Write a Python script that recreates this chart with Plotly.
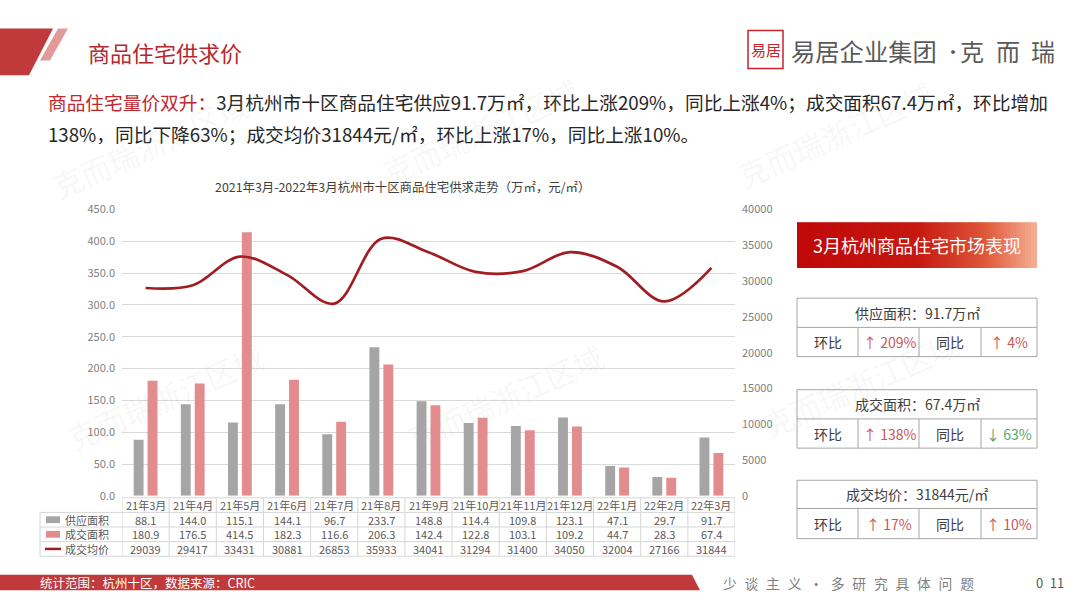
import plotly.graph_objects as go

W, H = 1080, 608
def X(px): return px / W
def Y(py): return 1 - py / H

FONT = "Noto Sans CJK SC"

# ---------------- data ----------------
categories = ["21年3月", "21年4月", "21年5月", "21年6月", "21年7月", "21年8月", "21年9月",
              "21年10月", "21年11月", "21年12月", "22年1月", "22年2月", "22年3月"]
supply = [88.1, 144.0, 115.1, 144.1, 96.7, 233.7, 148.8, 114.4, 109.8, 123.1, 47.1, 29.7, 91.7]
deal = [180.9, 176.5, 414.5, 182.3, 116.6, 206.3, 142.4, 122.8, 103.1, 109.2, 44.7, 28.3, 67.4]
price = [29039, 29417, 33431, 30881, 26853, 35933, 34041, 31294, 31400, 34050, 32004, 27166, 31844]
series_names = ["供应面积", "成交面积", "成交均价"]
left_ticks = [0, 50, 100, 150, 200, 250, 300, 350, 400, 450]
right_ticks = [0, 5000, 10000, 15000, 20000, 25000, 30000, 35000, 40000]

panel_titles = ["供应面积：91.7万㎡", "成交面积：67.4万㎡", "成交均价：31844元/㎡"]
panel_mom = ["↑ 209%", "↑ 138%", "↑ 17%"]
panel_yoy = ["↑ 4%", "↓ 63%", "↑ 10%"]

GRAY = "#A5A5A5"
PINK = "#E38C8E"
LINE = "#A01D22"
RED = "#C0393B"

fig = go.Figure()
fig.add_trace(go.Bar(x=categories, y=supply, name=series_names[0], marker_color=GRAY,
                     marker_line_width=0, yaxis="y"))
fig.add_trace(go.Bar(x=categories, y=deal, name=series_names[1], marker_color=PINK,
                     marker_line_width=0, yaxis="y"))
fig.add_trace(go.Scatter(x=categories, y=price, name=series_names[2], mode="lines", yaxis="y2",
                         line=dict(color=LINE, width=2.7, shape="spline", smoothing=1.0)))

shapes = []
ann = []

def A(x, y, text, size, color, xanchor="center", xref="paper", angle=0):
    ann.append(dict(x=x, y=Y(y), xref=xref, yref="paper", text=text, showarrow=False,
                    xanchor=xanchor, yanchor="middle", textangle=angle,
                    font=dict(family=FONT, size=size, color=color)))

def L(x0, y0, x1, y1, color, width=1, xref="paper"):
    shapes.append(dict(type="line", xref=xref, yref="paper", x0=x0, x1=x1, y0=Y(y0), y1=Y(y1),
                       line=dict(color=color, width=width)))

# ---------------- table under chart ----------------
gcol = "#D6D6D6"
rows_y = [502, 517, 532, 547, 562]
ncat = len(categories)
for k in range(ncat + 1):
    L(k - 0.5, 502, k - 0.5, 562, gcol, xref="x")
L(X(40), 517, X(40), 562, gcol)
L(X(122), 502, X(735), 502, gcol)
for ry in rows_y[1:]:
    L(X(40), ry, X(735), ry, gcol)

tcol = "#595959"
for i, c in enumerate(categories):
    A(c, 509.5, c, 11, tcol, xref="x")
    A(c, 524.5, f"{supply[i]:.1f}", 11, tcol, xref="x")
    A(c, 539.5, f"{deal[i]:.1f}", 11, tcol, xref="x")
    A(c, 554.5, f"{price[i]}", 11, tcol, xref="x")

shapes.append(dict(type="rect", xref="paper", yref="paper", x0=X(46), x1=X(60), y0=Y(528), y1=Y(521),
                   fillcolor=GRAY, line=dict(width=0)))
shapes.append(dict(type="rect", xref="paper", yref="paper", x0=X(46), x1=X(60), y0=Y(543), y1=Y(536),
                   fillcolor=PINK, line=dict(width=0)))
L(X(45), 554.5, X(61), 554.5, LINE, 2.5)
for j, nm in enumerate(series_names):
    A(X(63), 524.5 + 15 * j, nm, 11, tcol, xanchor="left")

# ---------------- chart title ----------------
A(X(402), 183, "2021年3月-2022年3月杭州市十区商品住宅供求走势（万㎡，元/㎡）", 12.4, "#404040")

# ---------------- header decorations ----------------
def path(pts):
    return "M " + " L ".join(f"{X(a):.5f},{Y(b):.5f}" for a, b in pts) + " Z"

shapes.append(dict(type="path", xref="paper", yref="paper", path=path([(0, 20), (53, 20), (29, 68), (0, 68)]),
                   fillcolor=RED, line=dict(width=0)))
shapes.append(dict(type="path", xref="paper", yref="paper", path=path([(58, 20), (68, 20), (50, 53), (40, 53)]),
                   fillcolor="#E39A9A", line=dict(width=0)))
A(X(86), 44, "商品住宅供求价", 22, "#B5282E", xanchor="left")

# logo
shapes.append(dict(type="rect", xref="paper", yref="paper", x0=X(748), x1=X(783), y0=Y(61), y1=Y(22),
                   fillcolor="white", line=dict(color="#C8242B", width=1.5)))
A(X(765.5), 41.5, "易居", 15, "#C8242B")
A(X(789), 43, "易居企业集团", 24.3, "#5A5A5A", xanchor="left")
A(X(952.5), 43, "·", 18, "#5A5A5A")
for cx, ch in zip([972, 1008, 1042.5], "克而瑞"):
    A(X(cx), 43, ch, 24, "#5A5A5A")

# paragraph
A(X(46), 95, "<span style='color:#C0282E'>商品住宅量价双升：</span>3月杭州市十区商品住宅供应91.7万㎡，环比上涨209%，同比上涨4%；成交面积67.4万㎡，环比增加",
  18.7, "#262626", xanchor="left")
A(X(46), 128, "138%，同比下降63%；成交均价31844元/㎡，环比上涨17%，同比上涨10%。", 18.7, "#262626", xanchor="left")

# watermarks
for (wx, wy) in [(150, 140), (480, 125), (835, 128), (165, 398), (505, 398), (860, 385)]:
    A(X(wx), wy, "克而瑞浙江区域", 30, "rgba(170,170,170,0.09)", angle=-24)

# ---------------- right panel ----------------
def lerp(c1, c2, t):
    return tuple(int(round(a + (b - a) * t)) for a, b in zip(c1, c2))

stops = [(0.0, (190, 8, 8)), (0.5, (198, 24, 16)), (0.78, (222, 86, 56)), (1.0, (246, 176, 148))]
bx0, bx1 = 797, 1037
n = 80
for s in range(n):
    t = (s + 0.5) / n
    for (p0, c0), (p1, c1) in zip(stops[:-1], stops[1:]):
        if p0 <= t <= p1:
            col = lerp(c0, c1, (t - p0) / (p1 - p0))
            break
    xa = bx0 + (bx1 - bx0) * s / n
    xb = bx0 + (bx1 - bx0) * (s + 1) / n + 0.6
    shapes.append(dict(type="rect", xref="paper", yref="paper", x0=X(xa), x1=X(min(xb, bx1)),
                       y0=Y(266), y1=Y(219), fillcolor=f"rgb{col}", line=dict(width=0)))
A(X(917), 242, "3月杭州商品住宅市场表现", 18, "white")

boxes = [(297, 327, 357), (391, 421, 451), (484, 513, 544)]
bcol = "#A6A6A6"
vx = [858, 919, 981]
cells_x = [828, 889, 950, 1009]
for b, (t0, tm, t1) in enumerate(boxes):
    shapes.append(dict(type="rect", xref="paper", yref="paper", x0=X(797), x1=X(1037), y0=Y(t1), y1=Y(t0),
                       line=dict(color=bcol, width=1), fillcolor="rgba(255,255,255,0.6)"))
    L(X(797), tm, X(1037), tm, bcol)
    for v in vx:
        L(X(v), tm, X(v), t1, bcol)
    A(X(917), (t0 + tm) / 2, panel_titles[b], 14, "#404040")
    yc = (tm + t1) / 2
    mom_col = "#C8575A" if panel_mom[b].startswith("↑") else "#4FA86C"
    yoy_col = "#C8575A" if panel_yoy[b].startswith("↑") else "#4FA86C"
    for k, (txt, colr) in enumerate([("环比", "#404040"), (panel_mom[b], mom_col),
                                      ("同比", "#404040"), (panel_yoy[b], yoy_col)]):
        A(X(cells_x[k]), yc, txt, 14, colr)

# ---------------- footer ----------------
shapes.append(dict(type="path", xref="paper", yref="paper",
                   path=path([(0, 581), (692, 581), (700, 597), (0, 597)]),
                   fillcolor=RED, line=dict(width=0)))
A(X(38), 589, "统计范围：杭州十区，数据来源：CRIC", 12.5, "white", xanchor="left")
A(X(721), 589, "\u2002\u200a".join("少谈主义·多研究具体问题"), 13.8, "#7F7F7F", xanchor="left")
A(X(1034), 589, "0\u200211", 13, "#595959", xanchor="left")

fig.update_layout(
    width=W, height=H, autosize=False,
    margin=dict(l=0, r=0, t=0, b=0, pad=0),
    paper_bgcolor="white", plot_bgcolor="rgba(0,0,0,0)",
    showlegend=False,
    barmode="group", bargap=0.41, bargroupgap=0.29,
    font=dict(family=FONT),
    xaxis=dict(domain=[X(122), X(735)], type="category", range=[-0.5, ncat - 0.5],
               showticklabels=False, showgrid=False, zeroline=False, showline=False, ticks=""),
    yaxis=dict(domain=[Y(500), Y(206)], range=[0, 450], tickvals=left_ticks,
               ticktext=[f"{v:.1f}" for v in left_ticks], showgrid=True, gridcolor="#D9D9D9",
               gridwidth=1, zeroline=False, showline=False, ticks="",
               tickfont=dict(family=FONT, size=11, color="#7F7F7F"), ticklabelstandoff=6),
    yaxis2=dict(overlaying="y", side="right", range=[0, 40000], tickvals=right_ticks,
                ticktext=[str(v) for v in right_ticks],
                showgrid=False, zeroline=False, showline=False, ticks="",
                tickfont=dict(family=FONT, size=11, color="#7F7F7F"), ticklabelstandoff=6),
    shapes=shapes, annotations=ann,
)

fig.write_html("out.html", config={"displayModeBar": False},
               post_script="document.body.style.margin='0';document.body.style.overflow='hidden';")
